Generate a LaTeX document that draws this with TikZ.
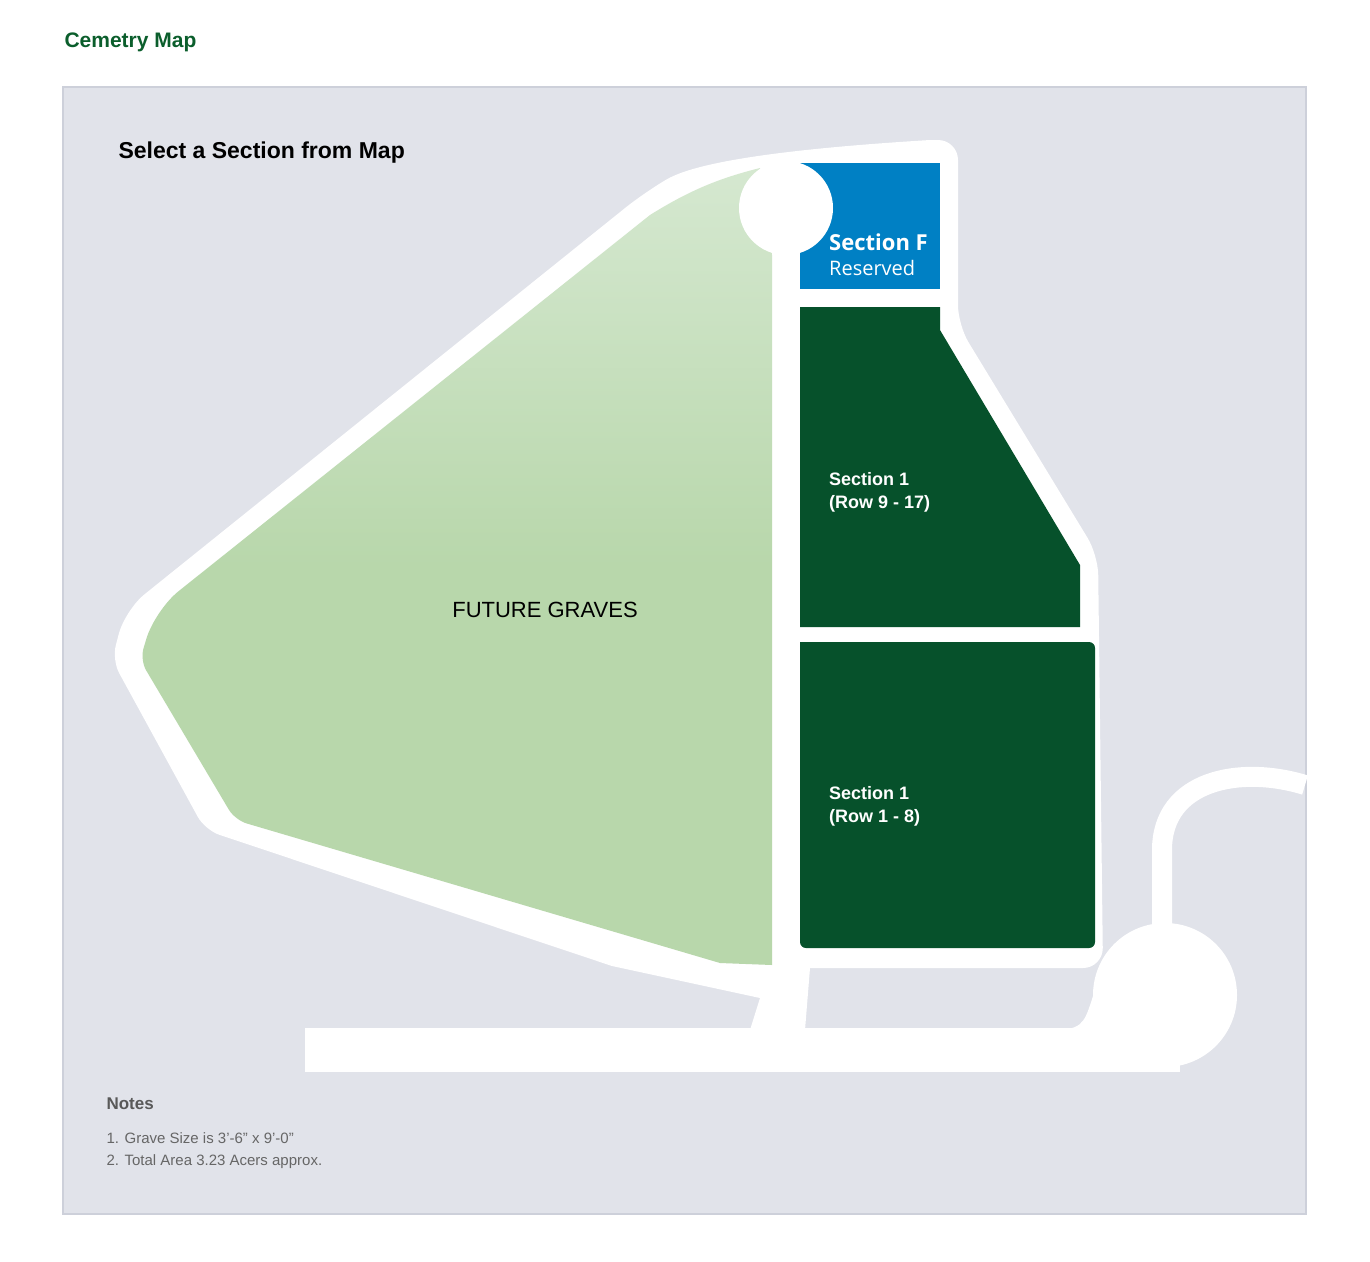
\documentclass[tikz,border=0pt]{standalone}
\usepackage{fontspec}
\setmainfont{Liberation Sans}
\newfontfamily\opensans{Open Sans}
\usetikzlibrary{positioning}
\definecolor{panelgrey}{HTML}{E1E3EA}
\definecolor{panelline}{HTML}{CDD0DA}
\definecolor{titlegreen}{HTML}{0B5E2C}
\definecolor{plotgreen}{HTML}{06512B}
\definecolor{reservedblue}{HTML}{0080C4}
\definecolor{futuretop}{HTML}{D5E8D0}
\definecolor{futurebot}{HTML}{B8D7AB}
\tikzset{road/.style={fill=white,draw=none},
  plot/.style={fill=plotgreen,draw=none},
  label/.style={anchor=north west,align=left,text=white,font=\bfseries\fontsize{18}{23}\selectfont},
  note/.style={anchor=west,text=black!60,font=\fontsize{15}{18}\selectfont}}

\begin{document}
\begin{tikzpicture}[x=1pt,y=-1pt]
                    \useasboundingbox (0,0) rectangle (1370,1261);
                    % panel
                    \draw [fill=panelgrey,draw=panelline,line width=1.5] (63,87) rectangle (1306,1214);
                    \node [anchor=west,text=titlegreen,font=\bfseries\fontsize{21}{25}\selectfont] (title) at (61,42) {Cemetry Map};
                    \node [anchor=west,font=\bfseries\fontsize{23}{27}\selectfont] (select) at (115,153) {Select a Section from Map};
                    % roads and paths
                    \path [road,rounded corners=25] (112,660) -- (125,610) -- (645,192)
                        [sharp corners] .. controls (700,160) and (800,148) .. (930,140)
                        [rounded corners=20] -- (958,140) -- (958,325) -- (1098,555) -- (1103,968)
                        [sharp corners] -- (810,968) -- (805,1030) -- (750,1030) -- (760,998)
                        -- (612,966) [rounded corners=15] -- (205,830) -- cycle;
                    \path [road] (305,1028) rectangle (1180,1072);
                    \path [road] (1165,995) circle (72);
                    \path [road] (1095,990) .. controls (1085,1020) and (1085,1028) .. (1060,1030) -- (1120,1072) -- (1165,1060) -- cycle;
                    \draw [white,line width=20] (1162,930) -- (1162,850) .. controls (1162,780) and (1240,765) .. (1305,785);
                    % future graves
                    \path [top color=futuretop,bottom color=futurebot,middle color=futurebot,rounded corners=30]
                        (140,660) -- (155,610) [sharp corners] -- (650,215) .. controls (690,190) and (720,178) .. (760,168)
                        -- (772,255) -- (772,965) -- (720,963) [rounded corners=12] -- (235,820) -- cycle;
                    % sections
                    \path [fill=reservedblue] (800,163) rectangle (940,289);
                    \path [road] (786,208) circle (47);
                    \path [plot] (800,307) -- (940,307) -- (940,330) -- (1080,565) -- (1080,627) -- (800,627) -- cycle;
                    \path [plot,rounded corners=6] (800,642) -- (1095,642) -- (1095,948) -- (800,948) [sharp corners] -- cycle;
                    \node [anchor=north west,align=left,text=white,inner sep=0] (secF) at (829,234)
                        {{\opensans\bfseries\fontsize{22}{26}\selectfont Section F}\\[8pt]{\opensans\fontsize{20}{24}\selectfont Reserved}};
                    \node [font=\fontsize{22}{26}\selectfont] (future) at (545,610) {FUTURE GRAVES};
                    \node [label,inner sep=0] (secA) at (829,472) {Section 1\\(Row 9 - 17)};
                    \node [label,inner sep=0] (secB) at (829,786) {Section 1\\(Row 1 - 8)};
                    % notes
                    \node [anchor=west,text=black!65,font=\bfseries\fontsize{17}{20}\selectfont] (notes) at (103,1104) {Notes};
                    \node [note] (noteA) at (103,1138) {1. Grave Size is 3'-6'' x 9'-0''};
                    \node [note] (noteB) at (103,1162) {2. Total Area 3.23 Acers approx.};
                \end{tikzpicture}
\end{document}
